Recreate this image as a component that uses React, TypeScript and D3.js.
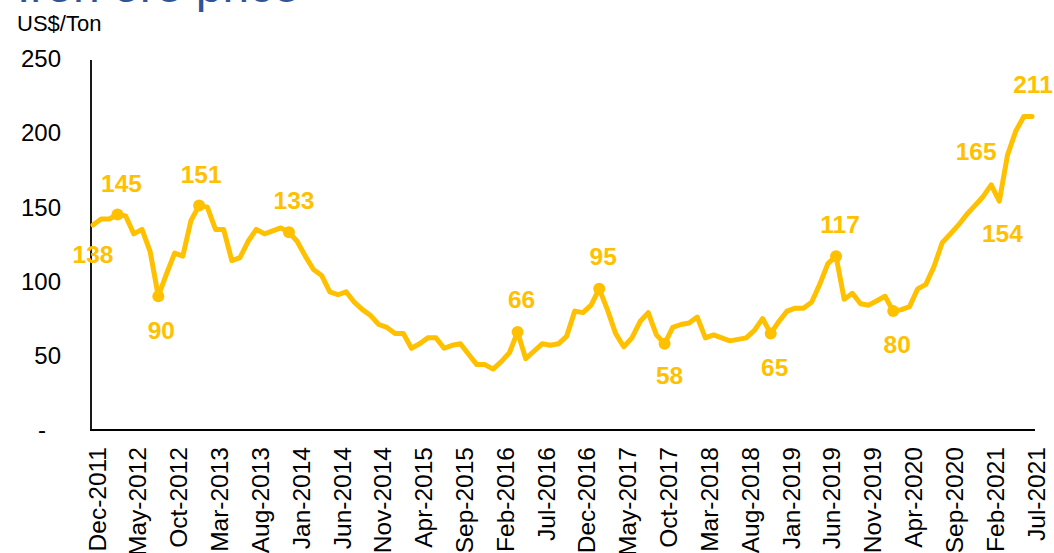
import React from "react";
import * as d3 from "d3";

// Monthly iron ore price, Dec-2011 .. Jul-2021 (US$/Ton)
const startMonth = new Date(2011, 11, 1);
const prices: number[] = [
  138, 142, 142, 145, 144, 132, 135, 120, 90, 105,
  119, 117, 141, 151, 150, 135, 135, 114, 116, 127,
  135, 132, 134, 136, 133, 127, 117, 108, 104, 93,
  91, 93, 86, 81, 77, 71, 69, 65, 65, 55,
  58, 62, 62, 55, 57, 58, 51, 44, 44, 41,
  46, 52, 66, 48, 53, 58, 57, 58, 63, 80,
  79, 84, 95, 81, 65, 56, 62, 73, 79, 64,
  58, 69, 71, 72, 76, 62, 64, 62, 60, 61,
  62, 67, 75, 65, 73, 80, 82, 82, 86, 98,
  112, 117, 88, 92, 85, 84, 87, 90, 80, 81,
  83, 95, 98, 110, 126, 132, 138, 145, 151, 157,
  165, 154, 185, 201, 211, 211,
];
const months: Date[] = prices.map((_, i) => d3.timeMonth.offset(startMonth, i));

const xTickLabels: string[] = [
  "Dec-2011", "May-2012", "Oct-2012", "Mar-2013", "Aug-2013", "Jan-2014",
  "Jun-2014", "Nov-2014", "Apr-2015", "Sep-2015", "Feb-2016", "Jul-2016",
  "Dec-2016", "May-2017", "Oct-2017", "Mar-2018", "Aug-2018", "Jan-2019",
  "Jun-2019", "Nov-2019", "Apr-2020", "Sep-2020", "Feb-2021", "Jul-2021",
];
const yTicks: number[] = [0, 50, 100, 150, 200, 250];

// Annotated points (month index) and which of them carry a marker
const labelIndices: number[] = [0, 3, 8, 13, 24, 52, 62, 70, 83, 91, 98, 110, 111, 115];
const markerIndices: number[] = [3, 8, 13, 24, 52, 62, 70, 83, 91, 98];
// label offsets (style): [dx, dy]
const labelOffsets: [number, number][] = [
  [0, 29], [4, -31], [3, 34], [2, -31], [5, -32], [4, -32], [4, -32],
  [5, 32], [4, 34], [4, -32], [4, 33], [-15, -33], [3, 32], [1, -32],
];

const W = 1054;
const H = 553;
const GOLD = "#FFC000";
const FONT = "'Liberation Sans', Arial, sans-serif";

export default function App() {
  const x = d3.scaleLinear().domain([0, prices.length - 1]).range([93, 1032]);
  const y = d3.scaleLinear().domain([0, 250]).range([430, 58.5]);
  const line = d3
    .line<number>()
    .x((_, i) => x(i))
    .y((d) => y(d));

  const fmt = (v: number) => (v === 0 ? "-" : String(v));

  return (
    <svg
      width={W}
      height={H}
      style={{ position: "absolute", left: 0, top: 0, background: "#fff" }}
      fontFamily={FONT}
    >
      <text x={17} y={2} fontSize={48} fill="#2F5597">
        Iron ore price
      </text>
      <text x={17} y={31} fontSize={22} fill="#000">
        US$/Ton
      </text>

      {yTicks.map((t) => (
        <text
          key={t}
          x={t === 0 ? 46 : 61}
          y={y(t)}
          dy="0.35em"
          textAnchor="end"
          fontSize={24}
          fill="#000"
        >
          {fmt(t)}
        </text>
      ))}

      <line x1={91} x2={91} y1={60} y2={430} stroke="#000" strokeWidth={1.8} />
      <line x1={90} x2={1035} y1={430} y2={430} stroke="#000" strokeWidth={1.8} />

      {xTickLabels.map((lab) => {
        const idx = months.findIndex(
          (m) => d3.timeFormat("%b-%Y")(m) === lab
        );
        const px = x(idx) + 4;
        return (
          <text
            key={lab}
            transform={`translate(${px},447) rotate(-90)`}
            dy="0.35em"
            textAnchor="end"
            fontSize={24.5}
            fill="#000"
          >
            {lab}
          </text>
        );
      })}

      <path
        d={line(prices) || ""}
        fill="none"
        stroke={GOLD}
        strokeWidth={5}
        strokeLinejoin="round"
        strokeLinecap="round"
      />

      {markerIndices.map((i) => (
        <circle key={i} cx={x(i)} cy={y(prices[i])} r={6} fill={GOLD} />
      ))}

      {labelIndices.map((i, k) => (
        <text
          key={i}
          x={x(i) + labelOffsets[k][0]}
          y={y(prices[i]) + labelOffsets[k][1]}
          dy="0.35em"
          textAnchor="middle"
          fontSize={24.5}
          fontWeight="bold"
          fill={GOLD}
        >
          {prices[i]}
        </text>
      ))}
    </svg>
  );
}
